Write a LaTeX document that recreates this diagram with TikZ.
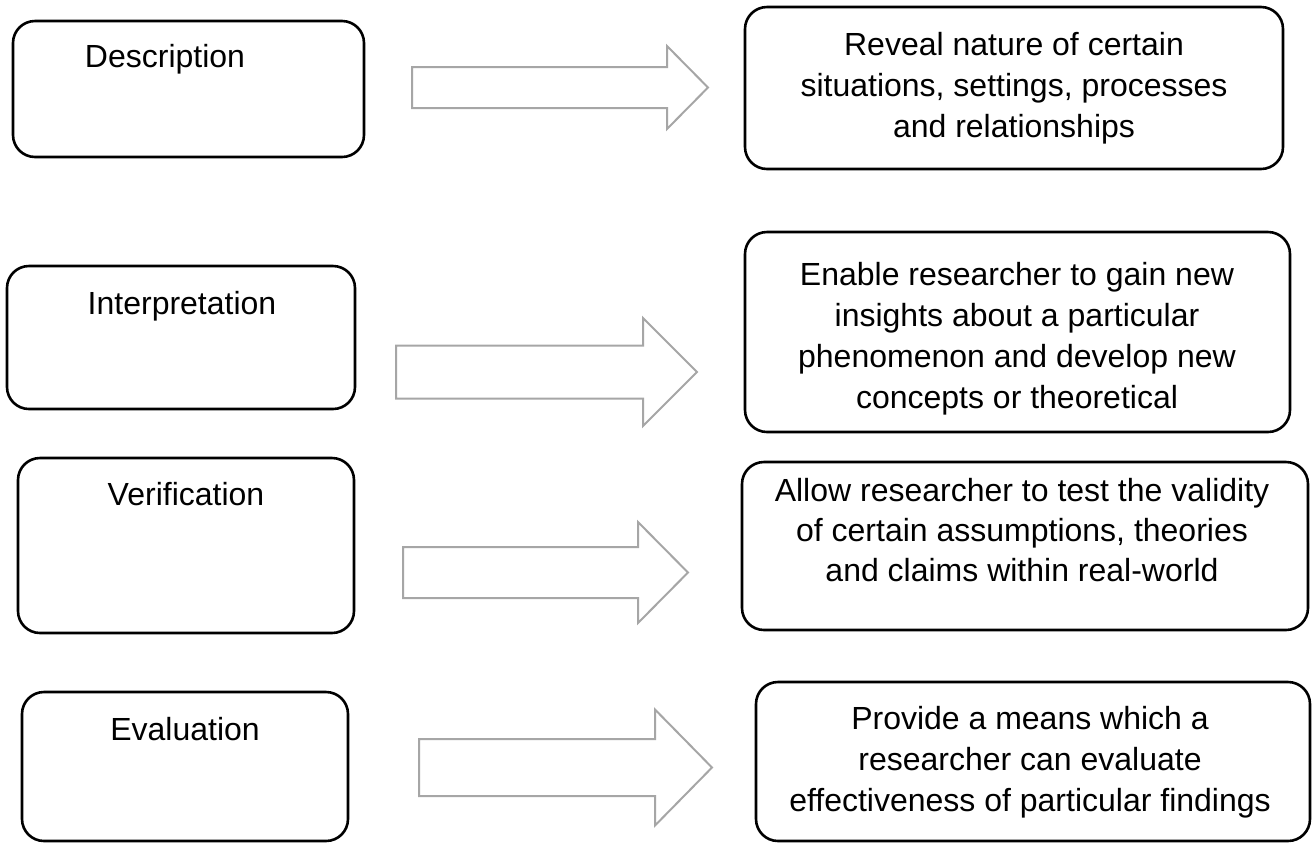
\documentclass[tikz,border=0pt]{standalone}
\usepackage{fontspec}
\setmainfont{Liberation Sans}
\usetikzlibrary{fit}
\definecolor{arrowgray}{HTML}{A6A6A6}
\tikzset{
  panel/.style={draw=black, line width=1.3pt, rounded corners=11pt, inner sep=0pt},
  title/.style={anchor=base, inner sep=0pt, font=\fontsize{16}{20.5}\selectfont},
  detail/.style={anchor=north, inner sep=0pt, align=center, font=\fontsize{16}{20.5}\selectfont},
  blockarrow/.style={draw=arrowgray, line width=1pt, fill=white, line join=miter}
}
% hollow block arrow: start x, head base x, tip x, centre y, half shaft, half head
\newcommand\blockarrow[6]{%
  \draw[blockarrow] (#1,#4-#5) -- (#2,#4-#5) -- (#2,#4-#6) -- (#3,#4)
    -- (#2,#4+#6) -- (#2,#4+#5) -- (#1,#4+#5) -- cycle;}

\begin{document}
\begin{tikzpicture}[x=0.5pt, y=-0.5pt]
\useasboundingbox (0,0) rectangle (1312,842);

% left column
\node[panel, fit={(13,21) (364,157)}] (desc) {};
\node[title] (desct) at (165,67) {Description};
\node[panel, fit={(7,266) (355,409)}] (interp) {};
\node[title] (interpt) at (182,314) {Interpretation};
\node[panel, fit={(18,458) (354,633)}] (verif) {};
\node[title] (veritt) at (186,505) {Verification};
\node[panel, fit={(22,692) (348,841)}] (evalu) {};
\node[title] (evalt) at (185,740) {Evaluation};

% right column
\node[panel, fit={(745,7) (1283,169)}] (reveal) {};
\node[detail] (revealt) at (1014,32) {Reveal nature of certain\\situations, settings, processes\\and relationships};
\node[panel, fit={(745,232) (1290,432)}] (enable) {};
\node[detail] (enablet) at (1017,262) {Enable researcher to gain new\\insights about a particular\\phenomenon and develop new\\concepts or theoretical};
\node[panel, fit={(742,462) (1308,630)}] (allow) {};
\node[detail, font=\fontsize{16}{20}\selectfont] (allowt) at (1022,478) {Allow researcher to test the validity\\of certain assumptions, theories\\and claims within real-world};
\node[panel, fit={(756,682) (1310,841)}] (provide) {};
\node[detail] (providet) at (1030,706) {Provide a means which a\\researcher can evaluate\\effectiveness of particular findings};

% arrows
\blockarrow{412}{667}{708}{87.5}{20.5}{41.5}
\blockarrow{396}{643}{697}{372}{26.5}{54}
\blockarrow{403}{638}{688}{572.5}{25.5}{50.5}
\blockarrow{419}{655}{712}{767.5}{28.5}{58}
\end{tikzpicture}
\end{document}
